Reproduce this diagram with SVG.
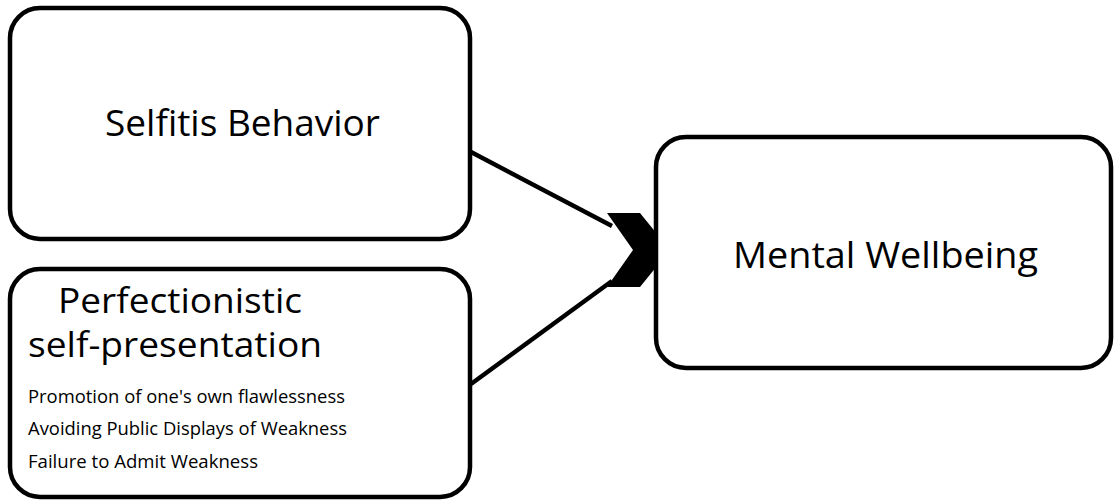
<svg xmlns="http://www.w3.org/2000/svg" width="1114" height="502" viewBox="0 0 1114 502">
<style>
.box{fill:#fff;stroke:#000;stroke-width:4.5}
.big{font-family:"Open Sans","Noto Sans",sans-serif;font-size:37px;fill:#000}
.mid{font-family:"Open Sans","Noto Sans",sans-serif;font-size:35px;fill:#000}
.small{font-family:"Open Sans","Noto Sans",sans-serif;font-size:19px;fill:#000}
.conn{stroke:#000;stroke-width:4.5;fill:none}
</style>
<rect width="1114" height="502" fill="#fff"/>
<g id="connectors">
<line class="conn" x1="471" y1="152" x2="612" y2="226"/>
<line class="conn" x1="471" y1="384" x2="612" y2="281"/>
<polygon points="607,213 640,213 670,250 640,287 607,287 633,250" fill="#000"/>
</g>
<g id="selfitis">
<rect class="box" x="10" y="8" width="460" height="231" rx="30"/>
<text class="big" x="105" y="136" textLength="275" lengthAdjust="spacingAndGlyphs">Selfitis Behavior</text>
</g>
<g id="perfectionistic">
<rect class="box" x="10" y="269" width="460" height="228" rx="30"/>
<text class="mid" x="58" y="313" textLength="244" lengthAdjust="spacingAndGlyphs">Perfectionistic</text>
<text class="mid" x="28" y="357" textLength="294" lengthAdjust="spacingAndGlyphs">self-presentation</text>
<text class="small" x="28" y="403" textLength="317" lengthAdjust="spacingAndGlyphs">Promotion of one's own flawlessness</text>
<text class="small" x="28" y="435" textLength="319" lengthAdjust="spacingAndGlyphs">Avoiding Public Displays of Weakness</text>
<text class="small" x="28" y="468" textLength="230" lengthAdjust="spacingAndGlyphs">Failure to Admit Weakness</text>
</g>
<g id="wellbeing">
<rect class="box" x="656" y="137" width="455" height="231" rx="30"/>
<text class="big" x="733" y="268" textLength="305" lengthAdjust="spacingAndGlyphs">Mental Wellbeing</text>
</g>
</svg>
